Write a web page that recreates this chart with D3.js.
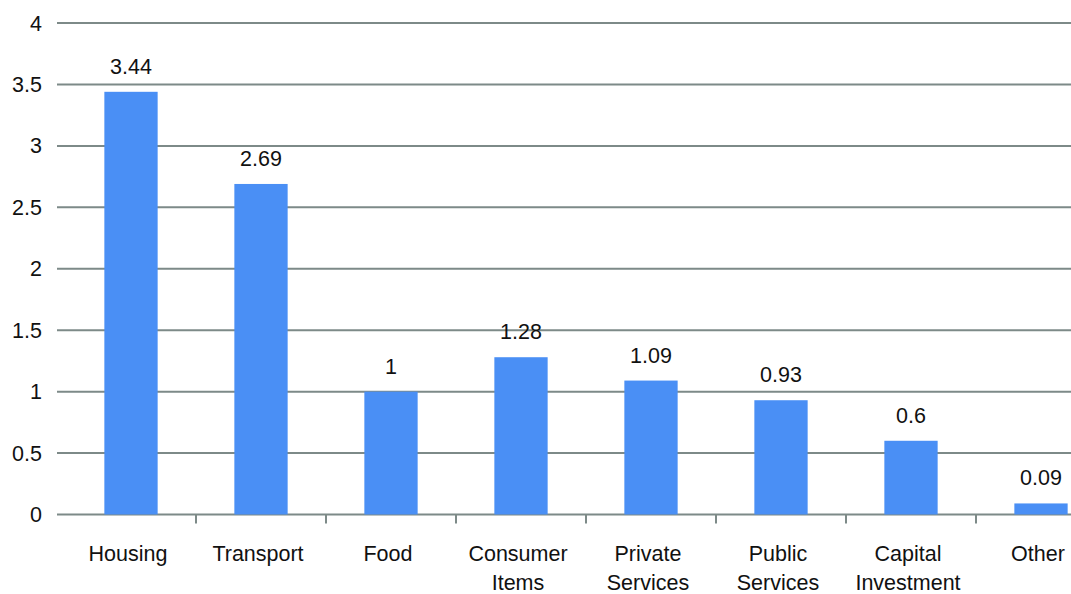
<!DOCTYPE html>
<html><head><meta charset="utf-8">
<script src="https://cdn.jsdelivr.net/npm/d3@7"></script>
<style>body{margin:0;background:#fff}svg{display:block}text{font-family:"Liberation Sans",Arial,sans-serif;fill:#111}</style>
</head><body><svg id="c" width="1071" height="594"></svg>
<script>
const categories = [["Housing"],["Transport"],["Food"],["Consumer","Items"],["Private","Services"],["Public","Services"],["Capital","Investment"],["Other"]];
const values = [3.44, 2.69, 1, 1.28, 1.09, 0.93, 0.6, 0.09];
const valueLabels = ["3.44","2.69","1","1.28","1.09","0.93","0.6","0.09"];
const yTicks = [0,0.5,1,1.5,2,2.5,3,3.5,4];
const yTickLabels = ["0","0.5","1","1.5","2","2.5","3","3.5","4"];

(function(){
const svg = d3.select("#c");
const pl = 66, pr = 1106, pt = 23, pb = 514.5;
const keys = categories.map((c,i)=>i);
const x = d3.scaleBand().domain(keys).range([pl,pr]).paddingInner(0.59).paddingOuter(0.295);
const xb = d3.scaleBand().domain(keys).range([pl,pr]);
const y = d3.scaleLinear().domain([0,4]).range([pb,pt]);
const grid = "#7d8a88", fs = 21.5;

svg.append("g").selectAll("line").data(yTicks).join("line")
  .attr("x1", pl-9).attr("x2", pr).attr("y1", d=>y(d)).attr("y2", d=>y(d))
  .attr("stroke", grid).attr("stroke-width", 2);
svg.append("g").selectAll("text").data(yTicks).join("text")
  .attr("x", 42).attr("y", d=>y(d)).attr("dy","0.35em").attr("text-anchor","end")
  .attr("font-size", fs).text((d,i)=>yTickLabels[i]);

svg.append("g").selectAll("line").data(keys.slice(1)).join("line")
  .attr("x1", d=>xb(d)).attr("x2", d=>xb(d)).attr("y1", pb).attr("y2", pb+9)
  .attr("stroke", grid).attr("stroke-width", 2);

svg.append("g").selectAll("rect").data(values).join("rect")
  .attr("x", (d,i)=>x(i)).attr("width", x.bandwidth())
  .attr("y", d=>y(d)).attr("height", d=>pb-y(d)).attr("fill", "#4a8ff5");

svg.append("g").selectAll("text").data(values).join("text")
  .attr("x", (d,i)=>x(i)+x.bandwidth()/2).attr("y", d=>y(d)-18)
  .attr("text-anchor","middle").attr("font-size", fs).text((d,i)=>valueLabels[i]);

const xl = svg.append("g").selectAll("text").data(categories).join("text")
  .attr("x", (d,i)=>xb(i)+xb.bandwidth()/2 - 3).attr("y", 561)
  .attr("text-anchor","middle").attr("font-size", fs);
xl.each(function(d){
  const t = d3.select(this);
  d.forEach((line,j)=>t.append("tspan").attr("x", t.attr("x")).attr("dy", j===0?0:29).text(line));
});
})();
</script></body></html>
